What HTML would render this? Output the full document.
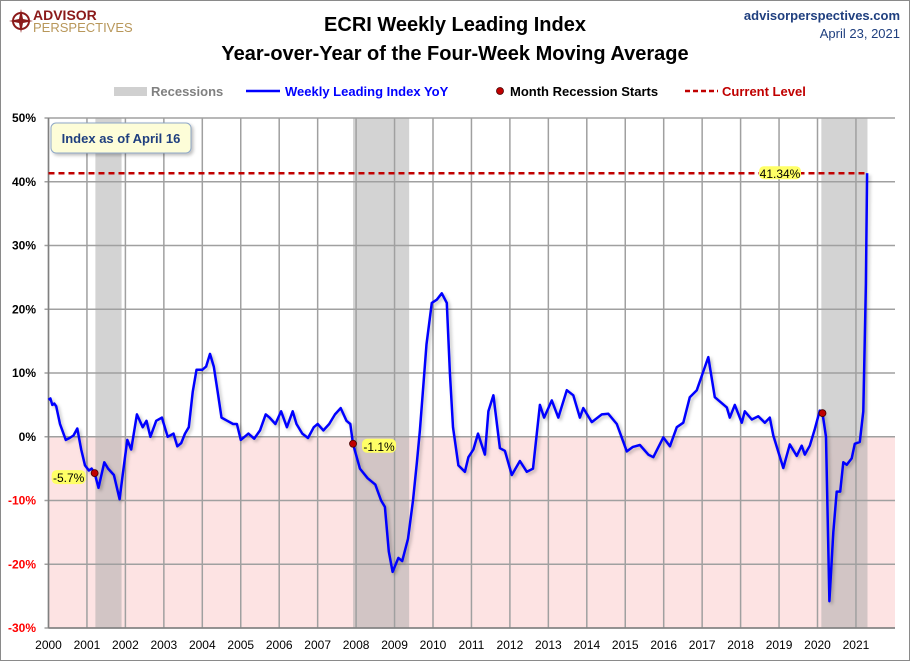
<!DOCTYPE html>
<html><head><meta charset="utf-8">
<style>
body{margin:0;background:#fff;}
#wrap{position:relative;width:910px;height:661px;overflow:hidden;font-family:"Liberation Sans",sans-serif;}
svg text{font-family:"Liberation Sans",sans-serif;}
</style></head>
<body>
<div id="wrap">
<svg id="chart" width="910" height="661" viewBox="0 0 910 661">
  <defs>
    <filter id="sh" x="-10%" y="-10%" width="130%" height="130%"><feDropShadow dx="2" dy="2" stdDeviation="1.5" flood-color="#000" flood-opacity="0.25"/></filter>
  </defs>
  <rect x="0.5" y="0.5" width="909" height="660" fill="#fff" stroke="#8a8a8a"/>
  <g>
    <circle cx="21" cy="21" r="8" fill="none" stroke="#8b1a1a" stroke-width="2"/>
    <path d="M21 9 L23 19 L33 21 L23 23 L21 33 L19 23 L9 21 L19 19 Z" fill="#8b1a1a"/>
    <text x="33" y="20" font-size="14" font-weight="bold" fill="#8b1a1a">ADVISOR</text>
    <text x="33" y="32" font-size="13" fill="#b8975a">PERSPECTIVES</text>
  </g>
  <text x="455" y="31" text-anchor="middle" font-size="20" font-weight="bold" fill="#000">ECRI Weekly Leading Index</text>
  <text x="455" y="60" text-anchor="middle" font-size="20" font-weight="bold" fill="#000">Year-over-Year of the Four-Week Moving Average</text>
  <text x="900" y="20" text-anchor="end" font-size="13" font-weight="bold" fill="#1f3f7f">advisorperspectives.com</text>
  <text x="900" y="38" text-anchor="end" font-size="13" fill="#1f3f7f">April 23, 2021</text>

  <g>
    <g>
      <rect x="114" y="87" width="33" height="9" fill="#d0d0d0"/>
      <text x="151" y="96" font-size="13" font-weight="bold" fill="#808080">Recessions</text>
    </g>
    <g>
      <line x1="246" y1="91" x2="280" y2="91" stroke="#0000ff" stroke-width="2.5"/>
      <text x="285" y="96" font-size="13" font-weight="bold" fill="#0000ff">Weekly Leading Index YoY</text>
    </g>
    <g>
      <circle cx="500" cy="91" r="3.5" fill="#c00000" stroke="#400" stroke-width="0.8"/>
      <text x="510" y="96" font-size="13" font-weight="bold" fill="#000">Month Recession Starts</text>
    </g>
    <g>
      <line x1="685" y1="91" x2="718" y2="91" stroke="#c00000" stroke-width="2.5" stroke-dasharray="5,3"/>
      <text x="722" y="96" font-size="13" font-weight="bold" fill="#c00000">Current Level</text>
    </g>
  </g>
  <g id="plot"></g>
</svg>
</div>
<script>
// ---- data ----
const tickYears = [2000,2001,2002,2003,2004,2005,2006,2007,2008,2009,2010,2011,2012,2013,2014,2015,2016,2017,2018,2019,2020,2021];
const yTicks = [50,40,30,20,10,0,-10,-20,-30];
const recStarts = [2001.22, 2007.92, 2020.1];
const recEnds = [2001.9, 2009.38, 2021.3];
const recDotDates = [2001.2, 2007.92, 2020.13];
const recDotValues = [-5.7, -1.1, 3.7];
const recDotLabels = ["-5.7%", "-1.1%", ""];
const currentLevel = 41.34;
const dates = [2000.0,2000.05,2000.1,2000.15,2000.2,2000.3,2000.45,2000.55,2000.65,2000.75,2000.85,2000.95,2001.05,2001.12,2001.2,2001.3,2001.45,2001.55,2001.7,2001.85,2001.95,2002.05,2002.15,2002.3,2002.45,2002.55,2002.65,2002.8,2002.95,2003.1,2003.25,2003.35,2003.45,2003.55,2003.65,2003.75,2003.85,2004.0,2004.1,2004.2,2004.3,2004.4,2004.5,2004.65,2004.8,2004.9,2005.0,2005.1,2005.2,2005.35,2005.5,2005.65,2005.75,2005.9,2006.05,2006.2,2006.35,2006.45,2006.6,2006.75,2006.9,2007.0,2007.15,2007.3,2007.45,2007.6,2007.75,2007.85,2007.92,2008.1,2008.3,2008.5,2008.65,2008.75,2008.85,2008.95,2009.1,2009.2,2009.35,2009.48,2009.58,2009.66,2009.83,2009.97,2010.1,2010.23,2010.36,2010.44,2010.52,2010.66,2010.83,2010.92,2011.05,2011.17,2011.35,2011.44,2011.57,2011.74,2011.87,2012.05,2012.26,2012.44,2012.6,2012.78,2012.89,2013.09,2013.26,2013.48,2013.65,2013.82,2013.91,2014.13,2014.39,2014.56,2014.78,2015.04,2015.2,2015.38,2015.6,2015.73,2015.99,2016.16,2016.34,2016.51,2016.68,2016.86,2017.16,2017.33,2017.64,2017.72,2017.85,2018.03,2018.11,2018.29,2018.46,2018.63,2018.76,2018.85,2019.11,2019.28,2019.46,2019.59,2019.67,2019.8,2019.93,2020.06,2020.13,2020.22,2020.31,2020.41,2020.5,2020.59,2020.67,2020.76,2020.89,2020.97,2021.1,2021.19,2021.26,2021.29];
const values = [5.8,6,5,5.2,4.8,2,-0.5,-0.2,0.2,1.3,-2,-4.5,-5.3,-5,-5.7,-8,-4,-5,-6,-9.8,-5,-0.5,-2,3.5,1.5,2.5,0,2.5,3,0,0.5,-1.5,-1,0.5,1.5,7,10.5,10.5,11,13,11,7,3,2.5,2,2,-0.5,0,0.5,-0.3,1,3.5,3,2,4,1.5,4,2,0.5,-0.2,1.5,2,1,2,3.5,4.5,2.5,2,-1.1,-5,-6.5,-7.5,-10,-11,-18,-21.2,-19,-19.5,-16,-10,-4,1,14.5,21,21.5,22.5,21,10,1.5,-4.5,-5.5,-3.2,-2,0.5,-2.8,4,6.5,-1.8,-2.2,-6,-3.8,-5.5,-5,5,3,5.7,3,7.3,6.5,3,4.5,2.3,3.5,3.6,2,-2.3,-1.6,-1.3,-2.8,-3.2,-0.1,-1.5,1.5,2.2,6.2,7.3,12.5,6.2,4.6,3,5,2.2,4,2.7,3.2,2.2,3,0.2,-4.9,-1.2,-3,-1.4,-2.8,-1.4,1.2,4.1,3.7,0,-25.8,-15,-8.6,-8.6,-4,-4.4,-3.4,-1.1,-0.8,4,24,41.34];

// ---- axes ----
const X0=48.5, YEARPX=38.45, XMAX=895, YTOP=118, YBOT=628, VMAX=50, VMIN=-30;
const xs = d => X0 + (d-2000)*YEARPX;
const ys = v => YTOP + (VMAX - v)/(VMAX-VMIN)*(YBOT-YTOP);
const NS="http://www.w3.org/2000/svg";
const plot=document.getElementById('plot');
function mk(tag,attrs,parent){const e=document.createElementNS(NS,tag);for(const k in attrs)e.setAttribute(k,attrs[k]);(parent||plot).appendChild(e);return e;}

const neg = mk('rect',{x:X0,y:ys(0),width:XMAX-X0,height:ys(VMIN)-ys(0),fill:'#fde3e3'});



recStarts.forEach((s,i)=>{
  const r=mk('rect',{x:xs(s),y:YTOP,width:xs(recEnds[i])-xs(s),height:YBOT-YTOP,fill:'#a8a8a8','fill-opacity':0.5});
  
  
});

tickYears.forEach(y=>{
  const l=mk('line',{x1:xs(y),y1:YTOP,x2:xs(y),y2:YBOT,stroke:'#a0a0a0','stroke-width':1.5});
  
  
  const t=mk('text',{x:xs(y),y:649,'text-anchor':'middle','font-size':12,fill:'#000'});
  t.textContent=y;
  
  
});
yTicks.forEach(v=>{
  const l=mk('line',{x1:X0-4,y1:ys(v),x2:XMAX,y2:ys(v),stroke:'#a0a0a0','stroke-width':1.5});
  
  
  const t=mk('text',{x:36,y:ys(v)+4,'text-anchor':'end','font-size':12,'font-weight':'bold',fill:v<0?'#ff0000':'#000'});
  t.textContent=v+'%';
  
  
});
const ax=mk('line',{x1:X0,y1:YBOT,x2:XMAX,y2:YBOT,stroke:'#808080','stroke-width':1.5});


const ay=mk('line',{x1:X0,y1:YTOP,x2:X0,y2:YBOT,stroke:'#808080','stroke-width':1.5});



// current level line
const cl=mk('line',{x1:X0,y1:ys(currentLevel),x2:xs(dates[dates.length-1]),y2:ys(currentLevel),stroke:'#c00000','stroke-width':2.5,'stroke-dasharray':'6,4'});



// series
const pts=dates.map((d,i)=>xs(d).toFixed(1)+','+ys(values[i]).toFixed(1)).join(' ');
const pl=mk('polyline',{points:pts,fill:'none',stroke:'#0000ff','stroke-width':2.5,'stroke-linejoin':'round',filter:'url(#sh)'});



// recession start dots and labels
recDotDates.forEach((d,i)=>{
  const c=mk('circle',{cx:xs(d),cy:ys(recDotValues[i]),r:3.5,fill:'#c00000',stroke:'#400','stroke-width':0.8});
  
  
  if(recDotLabels[i]){
    const left = i===0;
    const lx = left ? xs(d)-43 : xs(d)+9;
    const bg=mk('rect',{x:lx,y:ys(recDotValues[i])-8+(left?5:3),width:34,height:14,rx:5,fill:'#ffff66'});
    
    
    const t=mk('text',{x:lx+17,y:ys(recDotValues[i])+(left?9:7),'text-anchor':'middle','font-size':12,fill:'#000'});
    t.textContent=recDotLabels[i];
    
    
  }
});

// current value label
const cbg=mk('rect',{x:759,y:ys(currentLevel)-7,width:42,height:13,rx:5,fill:'#ffff66'});


const ct=mk('text',{x:780,y:ys(currentLevel)+5,'text-anchor':'middle','font-size':12,fill:'#000'});
ct.textContent=currentLevel.toFixed(2)+'%';



// index note box
const nb=mk('rect',{x:51,y:123,width:140,height:30,rx:5,fill:'#fdfdd8',stroke:'#8fa8c8','stroke-width':1,filter:'url(#sh)'});


const nt=mk('text',{x:121,y:143,'text-anchor':'middle','font-size':13,'font-weight':'bold',fill:'#1f3f7f'});
nt.textContent='Index as of April 16';


</script>
</body></html>
